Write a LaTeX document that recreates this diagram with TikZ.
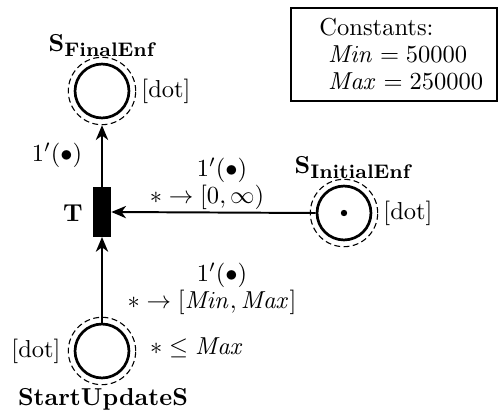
\documentclass[tikz,border=0pt]{standalone}
\usepackage{amsmath}
\usetikzlibrary{arrows.meta}
\begin{document}
\begin{tikzpicture}[x=0.408pt,y=-0.408pt,
  place/.style={circle,draw,line width=1.1pt,minimum size=22pt,inner sep=0pt},
  halo/.style={circle,draw,dashed,dash pattern=on 2.4pt off 1.4pt,line width=0.45pt,minimum size=27.5pt,inner sep=0pt},
  trans/.style={rectangle,fill=black,draw,minimum width=7.2pt,minimum height=20pt,inner sep=0pt},
  arc/.style={line width=0.8pt,-{Stealth[length=6pt,width=5pt,inset=1.8pt]}},
  lbl/.style={inner sep=0pt}]
\useasboundingbox (0,0) rectangle (504,412);
% places
\node[halo] (finH) at (102,91) {};
\node[place] (fin) at (102,91) {};
\node[halo] (iniH) at (344,213) {};
\node[place] (ini) at (344,213) {};
\node[circle,fill=black,inner sep=0pt,minimum size=2.6pt] (tok) at (344,213) {};
\node[halo] (startH) at (102,351) {};
\node[place] (start) at (102,351) {};
% transition
\node[trans] (T) at (102,212) {};
% arcs
\draw[arc] (T.north) -- (finH.south);
\draw[arc] (ini.west) -- (T.east);
\draw[arc] (start.north) -- (T.south);
% labels
\node[lbl] (finL) at (102,46) {$\mathbf{S}_{\text{\footnotesize\bfseries FinalEnf}}$};
\node[lbl] (iniL) at (353,168) {$\mathbf{S}_{\text{\footnotesize\bfseries InitialEnf}}$};
\node[lbl] (startL) at (103,399) {\textbf{StartUpdateS}};
\node[lbl] (TL) at (73,213) {\textbf{T}};
\node[lbl] (finD) at (166,91) {[dot]};
\node[lbl] (iniD) at (408,213) {[dot]};
\node[lbl] (startD) at (36,351) {[dot]};
\node[lbl] (a1) at (57,155) {$1'(\bullet)$};
\node[lbl] (a2) at (222,170) {$1'(\bullet)$};
\node[lbl] (a2b) at (207,197) {$*\rightarrow[0,\infty)$};
\node[lbl] (a3) at (222,275) {$1'(\bullet)$};
\node[lbl] (a3b) at (212,302) {$*\rightarrow[\mathit{Min},\mathit{Max}]$};
\node[lbl] (g3) at (197,348) {$*\leq\mathit{Max}$};
% constants box
\node[draw,line width=0.5pt,minimum width=84pt,minimum height=38pt,inner sep=0pt] (box) at (394,54.5) {};
\node[lbl,anchor=north west,align=left] (ctext) at (319,18) {Constants:\\[-1pt]\hspace{3.5pt}$\mathit{Min}=50000$\\[-1pt]\hspace{3.5pt}$\mathit{Max}=250000$};
\end{tikzpicture}
\end{document}
